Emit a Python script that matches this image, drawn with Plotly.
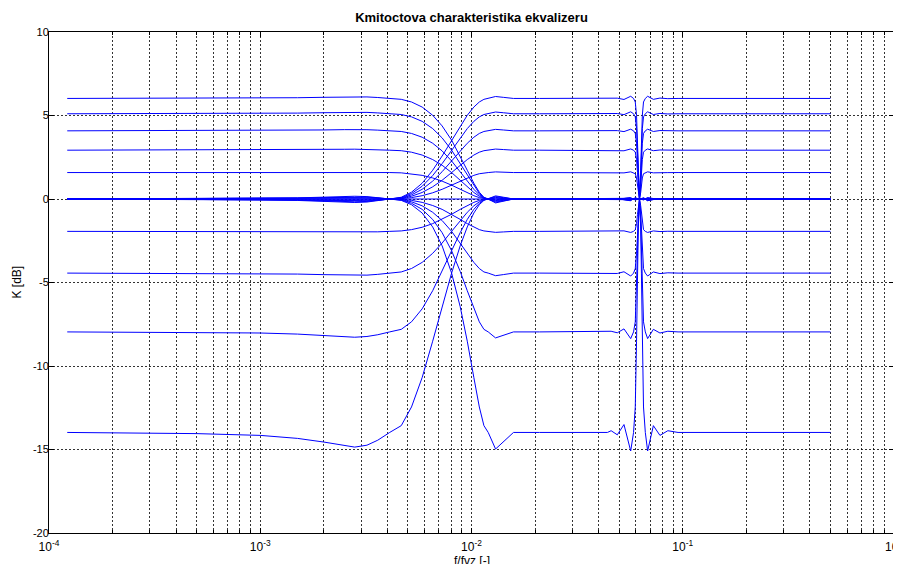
import plotly.graph_objects as go

# ---------------- data ----------------
# frequency grid (f/fvz) for the curves that start at a level and fall to 0 dB
FREQ_LOW = [1.22e-4, 5e-4, 1e-3, 1.5e-3, 2e-3, 2.5e-3, 2.8e-3, 3.2e-3, 3.6e-3,
            4.1e-3, 4.65e-3, 5.2e-3, 5.84e-3, 6.55e-3, 7.26e-3, 8.05e-3, 8.84e-3,
            9.55e-3, 1.026e-2, 1.089e-2, 1.145e-2, 1.2e-2,
            1.3e-2, 1.42e-2, 1.58e-2, 2.1e-2,
            5e-2, 5.65e-2, 5.95e-2, 6.24e-2, 6.55e-2, 6.8e-2, 7.5e-2, 0.5]

# frequency grid for the curves that start at 0 dB and rise/fall to a level
FREQ_HIGH = [1.22e-4, 5e-4, 1e-3, 1.5e-3, 2e-3, 2.5e-3, 2.8e-3, 3.2e-3, 3.6e-3,
             4.1e-3, 4.65e-3, 5.2e-3, 5.84e-3, 6.55e-3, 7.26e-3, 8.05e-3, 8.84e-3,
             9.55e-3, 1.026e-2, 1.089e-2, 1.145e-2, 1.2e-2,
             1.3e-2, 1.42e-2, 1.58e-2, 2.1e-2,
             4.4e-2, 4.58e-2, 4.9e-2, 5.27e-2, 5.67e-2, 5.85e-2, 5.96e-2, 6.043e-2,
             6.107e-2, 6.16e-2, 6.24e-2, 6.32e-2, 6.373e-2, 6.437e-2, 6.52e-2,
             6.65e-2, 6.82e-2, 7.26e-2, 7.8e-2, 8.5e-2, 9.5e-2, 0.5]

FREQ_FLAT = [1.22e-4, 0.5]
flat_0db = [0.0, 0.0]

# low band curves (K in dB)
low_6_0 = [6.021, 6.030, 6.043, 6.064, 6.090, 6.117, 6.125, 6.112, 6.077,
           6.021, 5.968, 5.810, 5.506, 5.013, 4.376, 3.522, 2.574, 1.720, 0.945, 0.407, 0.104, 0,
           -0.235, -0.130, 0, 0,
           0, -0.104, 0.069, 0, 0.069, -0.104, 0, 0]
low_5_1 = [5.105, 5.113, 5.124, 5.144, 5.167, 5.190, 5.198, 5.186, 5.155,
           5.105, 5.059, 4.918, 4.650, 4.216, 3.660, 2.923, 2.117, 1.402, 0.764, 0.327, 0.083, 0,
           -0.188, -0.104, 0, 0,
           0, -0.083, 0.055, 0, 0.055, -0.083, 0, 0]
low_4_1 = [4.082, 4.089, 4.098, 4.115, 4.134, 4.154, 4.160, 4.150, 4.124,
           4.082, 4.043, 3.925, 3.699, 3.338, 2.879, 2.279, 1.634, 1.072, 0.580, 0.247, 0.062, 0,
           -0.141, -0.078, 0, 0,
           0, -0.062, 0.041, 0, 0.041, -0.062, 0, 0]
low_2_9 = [2.923, 2.928, 2.935, 2.948, 2.963, 2.978, 2.983, 2.975, 2.955,
           2.923, 2.893, 2.803, 2.632, 2.361, 2.021, 1.584, 1.123, 0.729, 0.391, 0.165, 0.042, 0,
           -0.094, -0.052, 0, 0,
           0, -0.042, 0.028, 0, 0.028, -0.042, 0, 0]
low_1_6 = [1.584, 1.587, 1.591, 1.598, 1.607, 1.616, 1.619, 1.614, 1.603,
           1.584, 1.566, 1.514, 1.416, 1.261, 1.069, 0.828, 0.580, 0.372, 0.198, 0.083, 0.021, 0,
           -0.047, -0.026, 0, 0,
           0, -0.021, 0.014, 0, 0.014, -0.021, 0, 0]
low_m1_9 = [-1.938, -1.942, -1.949, -1.960, -1.973, -1.986, -1.990, -1.984, -1.966,
            -1.938, -1.912, -1.835, -1.692, -1.475, -1.220, -0.915, -0.621, -0.389, -0.202, -0.084, -0.021, 0,
            0.047, 0.026, 0, 0,
            0, 0.021, -0.014, 0, -0.014, 0.021, 0, 0]
low_m4_4 = [-4.437, -4.449, -4.466, -4.495, -4.530, -4.564, -4.576, -4.559, -4.512,
            -4.437, -4.368, -4.163, -3.795, -3.253, -2.639, -1.938, -1.290, -0.796, -0.409, -0.168, -0.042, 0,
            0.094, 0.052, 0, 0,
            0, 0.042, -0.028, 0, -0.028, 0.042, 0, 0]
low_m8_0 = [-7.959, -7.985, -8.024, -8.089, -8.167, -8.246, -8.277, -8.233, -8.128,
            -7.959, -7.804, -7.355, -6.577, -5.492, -4.336, -3.098, -2.015, -1.224, -0.621, -0.254, -0.063, 0,
            0.141, 0.078, 0, 0,
            0, 0.062, -0.041, 0, -0.041, 0.062, 0, 0]
low_m14_0 = [-13.979, -14.049, -14.155, -14.334, -14.554, -14.780, -14.856, -14.742, -14.443,
             -13.979, -13.572, -12.454, -10.692, -8.515, -6.448, -4.437, -2.805, -1.673, -0.838, -0.340, -0.084, 0,
             0.186, 0.104, 0, 0,
             0, 0.083, -0.055, 0, -0.055, 0.083, 0, 0]

# high band curves (K in dB)
high_6_0 = [0, -0.017, -0.043, -0.087, -0.139, -0.191, -0.208, -0.182, -0.113,
            0, 0.104, 0.407, 0.945, 1.720, 2.574, 3.522, 4.376, 5.013, 5.506, 5.810, 5.968, 6.021,
            6.138, 6.086, 6.021, 6.021,
            6.021, 6.008, 6.038, 5.960, 6.151, 6.021, 5.810, 5.013, 3.522, 1.720, 0,
            1.720, 3.522, 5.013, 5.810, 6.021, 6.151, 5.968, 6.043, 6.008, 6.021, 6.021]
high_5_1 = [0, -0.014, -0.035, -0.069, -0.111, -0.153, -0.167, -0.146, -0.090,
            0, 0.083, 0.327, 0.764, 1.402, 2.117, 2.923, 3.660, 4.216, 4.650, 4.918, 5.059, 5.105,
            5.209, 5.163, 5.105, 5.105,
            5.105, 5.093, 5.120, 5.051, 5.221, 5.105, 4.918, 4.216, 2.923, 1.402, 0,
            1.402, 2.923, 4.216, 4.918, 5.105, 5.221, 5.059, 5.124, 5.093, 5.105, 5.105]
high_4_1 = [0, -0.010, -0.026, -0.052, -0.083, -0.115, -0.125, -0.109, -0.068,
            0, 0.062, 0.247, 0.580, 1.072, 1.634, 2.279, 2.879, 3.338, 3.699, 3.925, 4.043, 4.082,
            4.170, 4.131, 4.082, 4.082,
            4.082, 4.072, 4.095, 4.036, 4.180, 4.082, 3.925, 3.338, 2.279, 1.072, 0,
            1.072, 2.279, 3.338, 3.925, 4.082, 4.180, 4.043, 4.098, 4.072, 4.082, 4.082]
high_2_9 = [0, -0.007, -0.017, -0.035, -0.056, -0.076, -0.083, -0.073, -0.045,
            0, 0.042, 0.165, 0.391, 0.729, 1.123, 1.584, 2.021, 2.361, 2.632, 2.803, 2.893, 2.923,
            2.990, 2.960, 2.923, 2.923,
            2.923, 2.916, 2.933, 2.888, 2.997, 2.923, 2.803, 2.361, 1.584, 0.729, 0,
            0.729, 1.584, 2.361, 2.803, 2.923, 2.997, 2.893, 2.935, 2.916, 2.923, 2.923]
high_1_6 = [0, -0.003, -0.009, -0.017, -0.028, -0.038, -0.042, -0.036, -0.023,
            0, 0.021, 0.083, 0.198, 0.372, 0.580, 0.828, 1.069, 1.261, 1.416, 1.514, 1.566, 1.584,
            1.623, 1.606, 1.584, 1.584,
            1.584, 1.580, 1.590, 1.564, 1.627, 1.584, 1.514, 1.261, 0.828, 0.372, 0,
            0.372, 0.828, 1.261, 1.514, 1.584, 1.627, 1.566, 1.591, 1.580, 1.584, 1.584]
high_m1_9 = [0, 0.003, 0.009, 0.017, 0.028, 0.038, 0.042, 0.036, 0.023,
             0, -0.021, -0.084, -0.202, -0.389, -0.621, -0.915, -1.220, -1.475, -1.692, -1.835, -1.912, -1.938,
             -1.997, -1.971, -1.938, -1.938,
             -1.938, -1.931, -1.947, -1.908, -2.003, -1.938, -1.835, -1.475, -0.915, -0.389, 0,
             -0.389, -0.915, -1.475, -1.835, -1.938, -2.003, -1.912, -1.949, -1.931, -1.938, -1.938]
high_m4_4 = [0, 0.007, 0.017, 0.035, 0.056, 0.077, 0.083, 0.073, 0.045,
             0, -0.042, -0.168, -0.409, -0.796, -1.290, -1.938, -2.639, -3.253, -3.795, -4.163, -4.368, -4.437,
             -4.593, -4.524, -4.437, -4.437,
             -4.437, -4.420, -4.460, -4.356, -4.612, -4.437, -4.163, -3.253, -1.938, -0.796, 0,
             -0.796, -1.938, -3.253, -4.163, -4.437, -4.612, -4.368, -4.466, -4.420, -4.437, -4.437]
high_m8_0 = [0, 0.010, 0.026, 0.052, 0.083, 0.114, 0.124, 0.109, 0.067,
             0, -0.063, -0.254, -0.621, -1.224, -2.015, -3.098, -4.336, -5.492, -6.577, -7.355, -7.804, -7.959,
             -8.318, -8.157, -7.959, -7.959,
             -7.959, -7.920, -8.011, -7.778, -8.359, -7.959, -7.355, -5.492, -3.098, -1.224, 0,
             -1.224, -3.098, -5.492, -7.355, -7.959, -8.359, -7.804, -8.024, -7.920, -7.959, -7.959]
high_m14_0 = [0, 0.014, 0.035, 0.069, 0.110, 0.152, 0.165, 0.145, 0.090,
              0, -0.084, -0.340, -0.838, -1.673, -2.805, -4.437, -6.448, -8.515, -10.692, -12.454, -13.572, -13.979,
              -14.972, -14.517, -13.979, -13.979,
              -13.979, -13.875, -14.120, -13.506, -15.090, -13.979, -12.454, -8.515, -4.437, -1.673, 0,
              -1.673, -4.437, -8.515, -12.454, -13.979, -15.090, -13.572, -14.155, -13.875, -13.979, -13.979]

X_TICKS = [1e-4, 1e-3, 1e-2, 1e-1, 1]
X_TICK_TEXT = ['10<sup>-4</sup>', '10<sup>-3</sup>', '10<sup>-2</sup>', '10<sup>-1</sup>', '10<sup>0</sup>']
Y_TICKS = [-20, -15, -10, -5, 0, 5, 10]
Y_TICK_TEXT = ['-20', '-15', '-10', '-5', '0', '5', '10']

# ---------------- figure ----------------
LINE = dict(color='#0000ff', width=1)
FONT = 'Liberation Sans, Arial, Helvetica, sans-serif'
GRID = 'rgba(0,0,0,0.8)'

fig = go.Figure()
low_curves = [low_6_0, low_5_1, low_4_1, low_2_9, low_1_6,
              low_m1_9, low_m4_4, low_m8_0, low_m14_0]
high_curves = [high_6_0, high_5_1, high_4_1, high_2_9, high_1_6,
               high_m1_9, high_m4_4, high_m8_0, high_m14_0]
for ys in low_curves:
    fig.add_trace(go.Scatter(x=FREQ_LOW, y=ys, mode='lines', line=LINE,
                             hoverinfo='skip', showlegend=False))
for ys in high_curves:
    fig.add_trace(go.Scatter(x=FREQ_HIGH, y=ys, mode='lines', line=LINE,
                             hoverinfo='skip', showlegend=False))
fig.add_trace(go.Scatter(x=FREQ_FLAT, y=flat_0db, mode='lines', line=LINE,
                         hoverinfo='skip', showlegend=False))

minor_vals = [m * 10.0 ** e for e in range(-4, 0) for m in range(2, 10)]

# the page body adds an 8 px offset, so margins are reduced accordingly
fig.update_layout(
    width=901, height=564,
    margin=dict(l=41, r=15, t=24, b=39, autoexpand=False),
    paper_bgcolor='white', plot_bgcolor='white',
    showlegend=False,
    font=dict(family=FONT, size=11, color='black'),
    title=dict(text='<b>Kmitoctova charakteristika ekvalizeru</b>',
               x=0.5, xref='paper', y=1 - 9.5 / 564, yref='container',
               xanchor='center', yanchor='middle',
               font=dict(family=FONT, size=13, color='black')),
    xaxis=dict(type='log', range=[-4, 0], automargin=False,
               tickvals=X_TICKS, ticktext=X_TICK_TEXT,
               ticks='inside', ticklen=5, tickcolor='black',
               showline=True, linecolor='black', linewidth=1, mirror='allticks',
               showgrid=True, gridcolor=GRID, gridwidth=1, griddash='2px,2px',
               minor=dict(tickvals=minor_vals, ticks='inside', ticklen=3,
                          tickcolor='black', showgrid=True, gridcolor=GRID,
                          gridwidth=1, griddash='2px,2px'),
               zeroline=False, ticklabeloverflow='allow', ticklabelstandoff=3,
               tickfont=dict(family=FONT, size=12, color='black')),
    yaxis=dict(range=[-20, 10], automargin=False,
               tickvals=Y_TICKS, ticktext=Y_TICK_TEXT,
               ticks='inside', ticklen=5, tickcolor='black',
               showline=True, linecolor='black', linewidth=1, mirror='allticks',
               showgrid=True, gridcolor=GRID, gridwidth=1, griddash='2px,2px',
               zeroline=False, ticklabeloverflow='allow', ticklabelstandoff=-3,
               tickfont=dict(family=FONT, size=11, color='black')),
    annotations=[
        dict(text='f/fvz [-]', xref='paper', yref='paper', x=0.5, y=-27.5 / 501,
             xanchor='center', yanchor='middle', showarrow=False,
             font=dict(family=FONT, size=12, color='black')),
        dict(text='K [dB]', xref='paper', yref='paper', x=-33 / 845, y=0.5,
             xanchor='center', yanchor='middle', showarrow=False, textangle=-90,
             font=dict(family=FONT, size=12, color='black')),
    ],
)

fig.write_html('out.html')
